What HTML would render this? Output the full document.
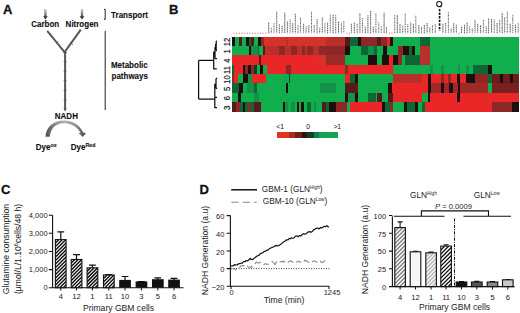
<!DOCTYPE html>
<html><head><meta charset="utf-8"><style>
html,body{margin:0;padding:0;background:#fff;}
body{width:520px;height:313px;overflow:hidden;font-family:"Liberation Sans",sans-serif;}
svg{display:block;}
</style></head><body>
<svg width="520" height="313" viewBox="0 0 520 313">
<rect width="520" height="313" fill="#fff"/>
<defs>
<linearGradient id="lab" x1="0" y1="0" x2="0" y2="1"><stop offset="0" stop-color="#9a9a9a"/><stop offset="1" stop-color="#8a8a8a"/></linearGradient>
<linearGradient id="arrg" x1="0" y1="0" x2="0" y2="1"><stop offset="0" stop-color="#d0d0d0"/><stop offset="0.5" stop-color="#909090"/><stop offset="1" stop-color="#444"/></linearGradient>
<linearGradient id="arcg" gradientUnits="userSpaceOnUse" x1="45" y1="0" x2="86" y2="0"><stop offset="0" stop-color="#4a4a4a"/><stop offset="0.3" stop-color="#9a9a9a"/><stop offset="0.5" stop-color="#b4b4b4"/><stop offset="0.78" stop-color="#8a8a8a"/><stop offset="1" stop-color="#404040"/></linearGradient>
<linearGradient id="cbar" x1="0" y1="0" x2="1" y2="0">
<stop offset="0" stop-color="#e8321f"/><stop offset="0.18" stop-color="#e0301f"/><stop offset="0.3" stop-color="#9e2822"/><stop offset="0.4" stop-color="#6e1e1a"/><stop offset="0.48" stop-color="#2a1410"/><stop offset="0.55" stop-color="#0e2a18"/><stop offset="0.66" stop-color="#0f5a32"/><stop offset="0.75" stop-color="#11914a"/><stop offset="1" stop-color="#13a650"/></linearGradient>
</defs>
<text x="3" y="13.8" font-family="Liberation Sans, sans-serif" font-weight="bold" font-size="13" fill="#111" stroke="#111" stroke-width="0.3">A</text>
<rect x="44.25" y="9" width="2.3" height="8" fill="url(#arrg)"/>
<path d="M43.00,16.3 L47.80,16.3 L45.4,19.4 Z" fill="#3a3a3a"/>
<rect x="80.85" y="9" width="2.3" height="8" fill="url(#arrg)"/>
<path d="M79.60,16.3 L84.40,16.3 L82,19.4 Z" fill="#3a3a3a"/>
<text transform="translate(31.2,26.9) scale(0.9,1)" font-family="Liberation Sans, sans-serif" font-weight="bold" font-size="8.9" fill="#111" stroke="#111" stroke-width="0.12">Carbon</text>
<text transform="translate(65.6,26.9) scale(0.9,1)" font-family="Liberation Sans, sans-serif" font-weight="bold" font-size="8.9" fill="#111" stroke="#111" stroke-width="0.12">Nitrogen</text>
<path d="M47.2,30.8 L64.6,52.2 M80.8,29.6 L64.6,52.2 M65.1,51.5 L65.1,110.8" stroke="#585858" stroke-width="2" fill="none"/>
<path d="M56.2,43.2 L58.4,41.6 M70.6,43 L72.8,44.6 M63.2,52.6 L67,52.6" stroke="#555" stroke-width="0.9" fill="none"/>
<path d="M63.6,61.5 L66.6,61.5 M63.6,71.1 L66.6,71.1 M63.6,80.7 L66.6,80.7 M63.6,90.3 L66.6,90.3 M63.6,99.8 L66.6,99.8 M63.6,108.5 L66.6,108.5" stroke="#555" stroke-width="0.8"/>
<text transform="translate(54.8,119.1) scale(0.9,1)" font-family="Liberation Sans, sans-serif" font-weight="bold" font-size="8.9" fill="#111" stroke="#111" stroke-width="0.12">NADH</text>
<path d="M45.4,136.8 C46.3,126.5 54,120.6 64,120.6 C72,120.6 79.5,124.6 83.2,132.6 L85.9,133.2 L82.7,137.1 L78.5,133 L80.6,132.7 C77.4,127 71,123.2 64,123.2 C56,123.2 50.6,128.2 49.8,136.8 Z" fill="url(#arcg)"/>
<text transform="translate(35.8,149.6) scale(0.9,1)" font-family="Liberation Sans, sans-serif" font-weight="bold" font-size="8.9" fill="#111" stroke="#111" stroke-width="0.12">Dye<tspan font-size="5.8" dy="-2.2">ox</tspan></text>
<text transform="translate(70.8,149.6) scale(0.9,1)" font-family="Liberation Sans, sans-serif" font-weight="bold" font-size="8.9" fill="#111" stroke="#111" stroke-width="0.12">Dye<tspan font-size="5.8" dy="-2.2">Red</tspan></text>
<path d="M104,9.3 L105.2,9.3 L105.2,19.4 L104,19.4 M105.2,30.8 L105.2,110" stroke="#222" stroke-width="1" fill="none"/>
<text transform="translate(111.1,18.3) scale(0.9,1)" font-family="Liberation Sans, sans-serif" font-weight="bold" font-size="8.9" fill="#111" stroke="#111" stroke-width="0.12">Transport</text>
<text transform="translate(110.9,68.1) scale(0.9,1)" font-family="Liberation Sans, sans-serif" font-weight="bold" font-size="8.9" fill="#111" stroke="#111" stroke-width="0.12">Metabolic</text>
<text transform="translate(111.5,78.5) scale(0.9,1)" font-family="Liberation Sans, sans-serif" font-weight="bold" font-size="8.9" fill="#111" stroke="#111" stroke-width="0.12">pathways</text>
<text x="168.9" y="13.8" font-family="Liberation Sans, sans-serif" font-weight="bold" font-size="13" fill="#111" stroke="#111" stroke-width="0.3">B</text>
<path d="M268.7,22.4 L268.7,33.2" stroke="#6a6a6a" stroke-width="1.05" stroke-dasharray="1.8,0.5"/>
<path d="M271.3,27.7 L271.3,33.2" stroke="#6a6a6a" stroke-width="1.05" stroke-dasharray="1.1,0.6"/>
<path d="M274.0,23.3 L274.0,33.2" stroke="#6a6a6a" stroke-width="1.05" stroke-dasharray="0.9,0.5"/>
<path d="M276.7,11.8 L276.7,33.2" stroke="#6a6a6a" stroke-width="1.05" stroke-dasharray="1.4,0.5"/>
<path d="M279.3,24.3 L279.3,33.2" stroke="#6a6a6a" stroke-width="1.05" stroke-dasharray="1.4,0.5"/>
<path d="M282.1,25.7 L282.1,33.2" stroke="#6a6a6a" stroke-width="1.05" stroke-dasharray="1.4,0.5"/>
<path d="M284.8,12.8 L284.8,33.2" stroke="#6a6a6a" stroke-width="1.05" stroke-dasharray="1.8,0.5"/>
<path d="M287.4,21.4 L287.4,33.2" stroke="#6a6a6a" stroke-width="1.05" stroke-dasharray="1.4,0.5"/>
<path d="M290.1,19.5 L290.1,33.2" stroke="#6a6a6a" stroke-width="1.05" stroke-dasharray="1.1,0.6"/>
<path d="M292.7,23.3 L292.7,33.2" stroke="#6a6a6a" stroke-width="1.05" stroke-dasharray="1.4,0.5"/>
<path d="M295.3,13.8 L295.3,33.2" stroke="#6a6a6a" stroke-width="1.05" stroke-dasharray="1.4,0.5"/>
<path d="M298.0,25.3 L298.0,33.2" stroke="#6a6a6a" stroke-width="1.05" stroke-dasharray="0.9,0.5"/>
<path d="M300.5,17.6 L300.5,33.2" stroke="#6a6a6a" stroke-width="1.05" stroke-dasharray="0.9,0.5"/>
<path d="M303.6,23.8 L303.6,33.2" stroke="#6a6a6a" stroke-width="1.05" stroke-dasharray="1.4,0.5"/>
<path d="M306.2,26.2 L306.2,33.2" stroke="#6a6a6a" stroke-width="1.05" stroke-dasharray="1.1,0.6"/>
<path d="M308.8,25.3 L308.8,33.2" stroke="#6a6a6a" stroke-width="1.05" stroke-dasharray="1.4,0.5"/>
<path d="M311.5,11.8 L311.5,33.2" stroke="#6a6a6a" stroke-width="1.05" stroke-dasharray="0.9,0.5"/>
<path d="M314.2,25.3 L314.2,33.2" stroke="#6a6a6a" stroke-width="1.05" stroke-dasharray="1.4,0.5"/>
<path d="M317.1,19.0 L317.1,33.2" stroke="#6a6a6a" stroke-width="1.05" stroke-dasharray="1.4,0.5"/>
<path d="M319.7,27.7 L319.7,33.2" stroke="#6a6a6a" stroke-width="1.05" stroke-dasharray="1.1,0.6"/>
<path d="M322.3,17.6 L322.3,33.2" stroke="#6a6a6a" stroke-width="1.05" stroke-dasharray="1.4,0.5"/>
<path d="M324.9,22.9 L324.9,33.2" stroke="#6a6a6a" stroke-width="1.05" stroke-dasharray="0.9,0.5"/>
<path d="M327.6,22.4 L327.6,33.2" stroke="#6a6a6a" stroke-width="1.05" stroke-dasharray="1.4,0.5"/>
<path d="M330.3,14.7 L330.3,33.2" stroke="#6a6a6a" stroke-width="1.05" stroke-dasharray="1.1,0.6"/>
<path d="M333.1,14.7 L333.1,33.2" stroke="#6a6a6a" stroke-width="1.05" stroke-dasharray="1.4,0.5"/>
<path d="M335.7,15.2 L335.7,33.2" stroke="#6a6a6a" stroke-width="1.05" stroke-dasharray="1.1,0.6"/>
<path d="M338.5,21.4 L338.5,33.2" stroke="#6a6a6a" stroke-width="1.05" stroke-dasharray="1.8,0.5"/>
<path d="M341.4,22.4 L341.4,33.2" stroke="#6a6a6a" stroke-width="1.05" stroke-dasharray="0.9,0.5"/>
<path d="M343.8,21.0 L343.8,33.2" stroke="#6a6a6a" stroke-width="1.05" stroke-dasharray="1.1,0.6"/>
<path d="M351.4,23.8 L351.4,33.2" stroke="#6a6a6a" stroke-width="1.05" stroke-dasharray="1.4,0.5"/>
<path d="M354.3,22.4 L354.3,33.2" stroke="#6a6a6a" stroke-width="1.05" stroke-dasharray="1.8,0.5"/>
<path d="M357.2,23.8 L357.2,33.2" stroke="#6a6a6a" stroke-width="1.05" stroke-dasharray="1.1,0.6"/>
<path d="M359.9,13.3 L359.9,33.2" stroke="#6a6a6a" stroke-width="1.05" stroke-dasharray="1.4,0.5"/>
<path d="M362.4,18.0 L362.4,33.2" stroke="#6a6a6a" stroke-width="1.05" stroke-dasharray="1.1,0.6"/>
<path d="M365.3,26.7 L365.3,33.2" stroke="#6a6a6a" stroke-width="1.05" stroke-dasharray="1.8,0.5"/>
<path d="M367.9,15.2 L367.9,33.2" stroke="#6a6a6a" stroke-width="1.05" stroke-dasharray="1.4,0.5"/>
<path d="M370.6,10.9 L370.6,33.2" stroke="#6a6a6a" stroke-width="1.05" stroke-dasharray="1.4,0.5"/>
<path d="M373.3,26.7 L373.3,33.2" stroke="#6a6a6a" stroke-width="1.05" stroke-dasharray="1.4,0.5"/>
<path d="M375.9,13.8 L375.9,33.2" stroke="#6a6a6a" stroke-width="1.05" stroke-dasharray="1.1,0.6"/>
<path d="M378.7,22.4 L378.7,33.2" stroke="#6a6a6a" stroke-width="1.05" stroke-dasharray="0.9,0.5"/>
<path d="M381.3,26.2 L381.3,33.2" stroke="#6a6a6a" stroke-width="1.05" stroke-dasharray="0.9,0.5"/>
<path d="M384.1,12.8 L384.1,33.2" stroke="#6a6a6a" stroke-width="1.05" stroke-dasharray="1.8,0.5"/>
<path d="M386.5,26.7 L386.5,33.2" stroke="#6a6a6a" stroke-width="1.05" stroke-dasharray="0.9,0.5"/>
<path d="M394.7,15.2 L394.7,33.2" stroke="#6a6a6a" stroke-width="1.05" stroke-dasharray="0.9,0.5"/>
<path d="M397.3,15.2 L397.3,33.2" stroke="#6a6a6a" stroke-width="1.05" stroke-dasharray="1.8,0.5"/>
<path d="M400.0,24.3 L400.0,33.2" stroke="#6a6a6a" stroke-width="1.05" stroke-dasharray="1.8,0.5"/>
<path d="M402.7,25.7 L402.7,33.2" stroke="#6a6a6a" stroke-width="1.05" stroke-dasharray="1.1,0.6"/>
<path d="M405.2,13.8 L405.2,33.2" stroke="#6a6a6a" stroke-width="1.05" stroke-dasharray="1.1,0.6"/>
<path d="M407.8,24.3 L407.8,33.2" stroke="#6a6a6a" stroke-width="1.05" stroke-dasharray="1.1,0.6"/>
<path d="M410.7,22.4 L410.7,33.2" stroke="#6a6a6a" stroke-width="1.05" stroke-dasharray="1.4,0.5"/>
<path d="M413.4,23.8 L413.4,33.2" stroke="#6a6a6a" stroke-width="1.05" stroke-dasharray="1.8,0.5"/>
<path d="M415.8,15.8 L415.8,33.2" stroke="#6a6a6a" stroke-width="1.05" stroke-dasharray="0.9,0.5"/>
<path d="M418.9,24.9 L418.9,33.2" stroke="#6a6a6a" stroke-width="1.05" stroke-dasharray="1.8,0.5"/>
<path d="M421.5,26.7 L421.5,33.2" stroke="#6a6a6a" stroke-width="1.05" stroke-dasharray="0.9,0.5"/>
<path d="M424.3,24.9 L424.3,33.2" stroke="#6a6a6a" stroke-width="1.05" stroke-dasharray="1.8,0.5"/>
<path d="M427.1,23.1 L427.1,33.2" stroke="#6a6a6a" stroke-width="1.05" stroke-dasharray="1.4,0.5"/>
<path d="M429.8,27.4 L429.8,33.2" stroke="#6a6a6a" stroke-width="1.05" stroke-dasharray="1.4,0.5"/>
<path d="M432.5,24.9 L432.5,33.2" stroke="#6a6a6a" stroke-width="1.05" stroke-dasharray="0.9,0.5"/>
<path d="M435.3,24.3 L435.3,33.2" stroke="#6a6a6a" stroke-width="1.05" stroke-dasharray="1.1,0.6"/>
<path d="M442.9,23.7 L442.9,33.2" stroke="#6a6a6a" stroke-width="1.05" stroke-dasharray="1.8,0.5"/>
<path d="M445.6,23.1 L445.6,33.2" stroke="#6a6a6a" stroke-width="1.05" stroke-dasharray="1.1,0.6"/>
<path d="M448.4,12.2 L448.4,33.2" stroke="#6a6a6a" stroke-width="1.05" stroke-dasharray="0.9,0.5"/>
<path d="M451.1,28.6 L451.1,33.2" stroke="#6a6a6a" stroke-width="1.05" stroke-dasharray="0.9,0.5"/>
<path d="M453.7,23.3 L453.7,33.2" stroke="#6a6a6a" stroke-width="1.05" stroke-dasharray="1.4,0.5"/>
<path d="M456.3,24.8 L456.3,33.2" stroke="#6a6a6a" stroke-width="1.05" stroke-dasharray="1.4,0.5"/>
<path d="M461.6,26.7 L461.6,33.2" stroke="#6a6a6a" stroke-width="1.05" stroke-dasharray="1.8,0.5"/>
<path d="M464.5,24.8 L464.5,33.2" stroke="#6a6a6a" stroke-width="1.05" stroke-dasharray="1.8,0.5"/>
<path d="M467.1,22.4 L467.1,33.2" stroke="#6a6a6a" stroke-width="1.05" stroke-dasharray="1.8,0.5"/>
<path d="M469.7,26.2 L469.7,33.2" stroke="#6a6a6a" stroke-width="1.05" stroke-dasharray="0.9,0.5"/>
<path d="M472.3,28.6 L472.3,33.2" stroke="#6a6a6a" stroke-width="1.05" stroke-dasharray="0.9,0.5"/>
<path d="M475.0,20.0 L475.0,33.2" stroke="#6a6a6a" stroke-width="1.05" stroke-dasharray="1.4,0.5"/>
<path d="M477.7,23.8 L477.7,33.2" stroke="#6a6a6a" stroke-width="1.05" stroke-dasharray="1.4,0.5"/>
<path d="M480.6,25.3 L480.6,33.2" stroke="#6a6a6a" stroke-width="1.05" stroke-dasharray="1.8,0.5"/>
<path d="M483.4,20.0 L483.4,33.2" stroke="#6a6a6a" stroke-width="1.05" stroke-dasharray="0.9,0.5"/>
<path d="M486.2,26.2 L486.2,33.2" stroke="#6a6a6a" stroke-width="1.05" stroke-dasharray="1.4,0.5"/>
<path d="M488.6,18.5 L488.6,33.2" stroke="#6a6a6a" stroke-width="1.05" stroke-dasharray="1.4,0.5"/>
<path d="M491.5,19.0 L491.5,33.2" stroke="#6a6a6a" stroke-width="1.05" stroke-dasharray="1.8,0.5"/>
<path d="M494.2,19.5 L494.2,33.2" stroke="#6a6a6a" stroke-width="1.05" stroke-dasharray="0.9,0.5"/>
<path d="M497.1,22.9 L497.1,33.2" stroke="#6a6a6a" stroke-width="1.05" stroke-dasharray="1.8,0.5"/>
<path d="M499.7,20.0 L499.7,33.2" stroke="#6a6a6a" stroke-width="1.05" stroke-dasharray="0.9,0.5"/>
<path d="M502.2,13.3 L502.2,33.2" stroke="#6a6a6a" stroke-width="1.05" stroke-dasharray="1.8,0.5"/>
<path d="M504.7,17.6 L504.7,33.2" stroke="#6a6a6a" stroke-width="1.05" stroke-dasharray="1.4,0.5"/>
<path d="M507.3,11.4 L507.3,33.2" stroke="#6a6a6a" stroke-width="1.05" stroke-dasharray="0.9,0.5"/>
<path d="M510.2,23.8 L510.2,33.2" stroke="#6a6a6a" stroke-width="1.05" stroke-dasharray="1.8,0.5"/>
<path d="M512.8,14.7 L512.8,33.2" stroke="#6a6a6a" stroke-width="1.05" stroke-dasharray="1.1,0.6"/>
<path d="M515.5,24.8 L515.5,33.2" stroke="#6a6a6a" stroke-width="1.05" stroke-dasharray="1.4,0.5"/>
<path d="M518.2,22.9 L518.2,33.2" stroke="#6a6a6a" stroke-width="1.05" stroke-dasharray="0.9,0.5"/>
<rect x="233.5" y="32.6" width="1" height="1.4" fill="#d09090"/>
<rect x="236.2" y="32.6" width="1" height="1.4" fill="#d09090"/>
<rect x="238.8" y="32.6" width="1" height="1.4" fill="#d09090"/>
<rect x="241.5" y="32.6" width="1" height="1.4" fill="#d09090"/>
<rect x="244.1" y="32.6" width="1" height="1.4" fill="#d09090"/>
<rect x="246.8" y="32.6" width="1" height="1.4" fill="#d09090"/>
<rect x="249.4" y="32.6" width="1" height="1.4" fill="#d09090"/>
<rect x="252.1" y="32.6" width="1" height="1.4" fill="#d09090"/>
<rect x="254.7" y="32.6" width="1" height="1.4" fill="#d09090"/>
<rect x="257.4" y="32.6" width="1" height="1.4" fill="#d09090"/>
<rect x="260.0" y="32.6" width="1" height="1.4" fill="#d09090"/>
<rect x="262.6" y="32.6" width="1" height="1.4" fill="#d09090"/>
<rect x="265.3" y="32.6" width="1" height="1.4" fill="#d09090"/>
<rect x="346.5" y="32.6" width="1" height="1.6" fill="#d89a9a"/>
<rect x="349.0" y="32.6" width="1" height="1.6" fill="#d89a9a"/>
<rect x="389.0" y="32.6" width="1" height="1.6" fill="#d89a9a"/>
<rect x="391.5" y="32.6" width="1" height="1.6" fill="#d89a9a"/>
<rect x="458.7" y="32.6" width="1" height="1.6" fill="#d89a9a"/>
<circle cx="439.2" cy="4.05" r="2.6" stroke="#111" stroke-width="1.05" fill="none"/>
<path d="M440.2,6 L441.3,7.1" stroke="#111" stroke-width="1.1"/>
<path d="M439.6,8.9 L439.6,31" stroke="#111" stroke-width="1.6" stroke-dasharray="2.4,1.2"/>
<g shape-rendering="crispEdges"><rect x="232.0" y="36.60" width="2.75" height="9.62" fill="#1e0e0e"/>
<rect x="234.5" y="36.60" width="4.75" height="9.62" fill="#10ae4c"/>
<rect x="239.0" y="36.60" width="3.25" height="9.62" fill="#561a1a"/>
<rect x="242.0" y="36.60" width="4.25" height="9.62" fill="#10ae4c"/>
<rect x="246.0" y="36.60" width="2.75" height="9.62" fill="#1e0e0e"/>
<rect x="248.5" y="36.60" width="2.75" height="9.62" fill="#0d6634"/>
<rect x="251.0" y="36.60" width="2.75" height="9.62" fill="#561a1a"/>
<rect x="253.5" y="36.60" width="5.15" height="9.62" fill="#10ae4c"/>
<rect x="258.4" y="36.60" width="2.55" height="9.62" fill="#1e0e0e"/>
<rect x="260.7" y="36.60" width="3.35" height="9.62" fill="#8e2727"/>
<rect x="263.8" y="36.60" width="22.15" height="9.62" fill="#d5322a"/>
<rect x="285.7" y="36.60" width="2.15" height="9.62" fill="#b9302a"/>
<rect x="287.6" y="36.60" width="38.65" height="9.62" fill="#d5322a"/>
<rect x="326.0" y="36.60" width="18.75" height="9.62" fill="#b9302a"/>
<rect x="344.5" y="36.60" width="5.45" height="9.62" fill="#561a1a"/>
<rect x="349.7" y="36.60" width="8.55" height="9.62" fill="#0d6634"/>
<rect x="358.0" y="36.60" width="2.75" height="9.62" fill="#1e0e0e"/>
<rect x="360.5" y="36.60" width="16.35" height="9.62" fill="#8e2727"/>
<rect x="376.6" y="36.60" width="4.65" height="9.62" fill="#561a1a"/>
<rect x="381.0" y="36.60" width="6.05" height="9.62" fill="#8e2727"/>
<rect x="386.8" y="36.60" width="3.45" height="9.62" fill="#ea2626"/>
<rect x="390.0" y="36.60" width="2.75" height="9.62" fill="#1e0e0e"/>
<rect x="392.5" y="36.60" width="28.05" height="9.62" fill="#10ae4c"/>
<rect x="420.3" y="36.60" width="9.95" height="9.62" fill="#0d6634"/>
<rect x="430.0" y="36.60" width="89.25" height="9.62" fill="#10ae4c"/>
<rect x="232.0" y="45.98" width="16.75" height="9.62" fill="#10ae4c"/>
<rect x="248.5" y="45.98" width="2.95" height="9.62" fill="#1e0e0e"/>
<rect x="251.2" y="45.98" width="6.75" height="9.62" fill="#119246"/>
<rect x="257.7" y="45.98" width="1.75" height="9.62" fill="#0d6634"/>
<rect x="259.2" y="45.98" width="4.45" height="9.62" fill="#10ae4c"/>
<rect x="263.4" y="45.98" width="2.15" height="9.62" fill="#561a1a"/>
<rect x="265.3" y="45.98" width="14.25" height="9.62" fill="#b9302a"/>
<rect x="279.3" y="45.98" width="5.95" height="9.62" fill="#8e2727"/>
<rect x="285.0" y="45.98" width="6.05" height="9.62" fill="#b9302a"/>
<rect x="290.8" y="45.98" width="5.95" height="9.62" fill="#8e2727"/>
<rect x="296.5" y="45.98" width="6.05" height="9.62" fill="#b9302a"/>
<rect x="302.3" y="45.98" width="2.85" height="9.62" fill="#8e2727"/>
<rect x="304.9" y="45.98" width="2.75" height="9.62" fill="#b9302a"/>
<rect x="307.4" y="45.98" width="6.05" height="9.62" fill="#8e2727"/>
<rect x="313.2" y="45.98" width="5.95" height="9.62" fill="#b9302a"/>
<rect x="318.9" y="45.98" width="6.05" height="9.62" fill="#8e2727"/>
<rect x="324.7" y="45.98" width="20.05" height="9.62" fill="#8e2727"/>
<rect x="344.5" y="45.98" width="5.45" height="9.62" fill="#1e0e0e"/>
<rect x="349.7" y="45.98" width="11.05" height="9.62" fill="#10ae4c"/>
<rect x="360.5" y="45.98" width="7.95" height="9.62" fill="#0d6634"/>
<rect x="368.2" y="45.98" width="6.05" height="9.62" fill="#119246"/>
<rect x="374.0" y="45.98" width="2.85" height="9.62" fill="#0d6634"/>
<rect x="376.6" y="45.98" width="6.65" height="9.62" fill="#10ae4c"/>
<rect x="383.0" y="45.98" width="4.05" height="9.62" fill="#1e0e0e"/>
<rect x="386.8" y="45.98" width="11.15" height="9.62" fill="#10ae4c"/>
<rect x="397.7" y="45.98" width="5.95" height="9.62" fill="#8e2727"/>
<rect x="403.4" y="45.98" width="5.35" height="9.62" fill="#1e0e0e"/>
<rect x="408.5" y="45.98" width="3.45" height="9.62" fill="#0d6634"/>
<rect x="411.7" y="45.98" width="3.55" height="9.62" fill="#1e0e0e"/>
<rect x="415.0" y="45.98" width="5.25" height="9.62" fill="#10ae4c"/>
<rect x="420.0" y="45.98" width="9.95" height="9.62" fill="#b9302a"/>
<rect x="429.7" y="45.98" width="89.55" height="9.62" fill="#10ae4c"/>
<rect x="232.0" y="55.35" width="27.05" height="9.62" fill="#ea2626"/>
<rect x="258.8" y="55.35" width="2.45" height="9.62" fill="#561a1a"/>
<rect x="261.0" y="55.35" width="58.15" height="9.62" fill="#ea2626"/>
<rect x="318.9" y="55.35" width="7.35" height="9.62" fill="#d5322a"/>
<rect x="326.0" y="55.35" width="18.75" height="9.62" fill="#9e2a28"/>
<rect x="344.5" y="55.35" width="23.95" height="9.62" fill="#10ae4c"/>
<rect x="368.2" y="55.35" width="8.65" height="9.62" fill="#1e0e0e"/>
<rect x="376.6" y="55.35" width="5.95" height="9.62" fill="#10ae4c"/>
<rect x="382.3" y="55.35" width="7.25" height="9.62" fill="#1e0e0e"/>
<rect x="389.3" y="55.35" width="4.15" height="9.62" fill="#ea2626"/>
<rect x="393.2" y="55.35" width="4.75" height="9.62" fill="#1e0e0e"/>
<rect x="397.7" y="55.35" width="4.55" height="9.62" fill="#8e2727"/>
<rect x="402.0" y="55.35" width="3.25" height="9.62" fill="#10ae4c"/>
<rect x="405.0" y="55.35" width="15.55" height="9.62" fill="#0d6634"/>
<rect x="420.3" y="55.35" width="9.95" height="9.62" fill="#b9302a"/>
<rect x="430.0" y="55.35" width="89.25" height="9.62" fill="#10ae4c"/>
<rect x="232.0" y="64.72" width="2.05" height="9.62" fill="#0d6634"/>
<rect x="233.8" y="64.72" width="8.95" height="9.62" fill="#ea2626"/>
<rect x="242.5" y="64.72" width="3.15" height="9.62" fill="#1e0e0e"/>
<rect x="245.4" y="64.72" width="2.65" height="9.62" fill="#8e2727"/>
<rect x="247.8" y="64.72" width="3.15" height="9.62" fill="#1e0e0e"/>
<rect x="250.7" y="64.72" width="3.15" height="9.62" fill="#8e2727"/>
<rect x="253.6" y="64.72" width="3.65" height="9.62" fill="#0b3d22"/>
<rect x="257.0" y="64.72" width="3.05" height="9.62" fill="#10ae4c"/>
<rect x="259.8" y="64.72" width="3.65" height="9.62" fill="#1e0e0e"/>
<rect x="263.2" y="64.72" width="3.55" height="9.62" fill="#10ae4c"/>
<rect x="266.5" y="64.72" width="19.45" height="9.62" fill="#ea2626"/>
<rect x="285.7" y="64.72" width="5.35" height="9.62" fill="#8e2727"/>
<rect x="290.8" y="64.72" width="54.45" height="9.62" fill="#ea2626"/>
<rect x="345.0" y="64.72" width="3.65" height="9.62" fill="#8e2727"/>
<rect x="348.4" y="64.72" width="44.35" height="9.62" fill="#ea2626"/>
<rect x="392.5" y="64.72" width="37.45" height="9.62" fill="#10ae4c"/>
<rect x="429.7" y="64.72" width="3.45" height="9.62" fill="#119246"/>
<rect x="432.9" y="64.72" width="8.55" height="9.62" fill="#10ae4c"/>
<rect x="441.2" y="64.72" width="2.75" height="9.62" fill="#119246"/>
<rect x="443.7" y="64.72" width="14.35" height="9.62" fill="#10ae4c"/>
<rect x="457.8" y="64.72" width="2.85" height="9.62" fill="#119246"/>
<rect x="460.4" y="64.72" width="5.35" height="9.62" fill="#10ae4c"/>
<rect x="465.5" y="64.72" width="3.45" height="9.62" fill="#119246"/>
<rect x="468.7" y="64.72" width="4.15" height="9.62" fill="#10ae4c"/>
<rect x="472.6" y="64.72" width="15.65" height="9.62" fill="#0d6634"/>
<rect x="488.0" y="64.72" width="3.95" height="9.62" fill="#1e0e0e"/>
<rect x="491.7" y="64.72" width="27.55" height="9.62" fill="#10ae4c"/>
<rect x="232.0" y="74.10" width="2.05" height="9.62" fill="#8e2727"/>
<rect x="233.8" y="74.10" width="3.95" height="9.62" fill="#ea2626"/>
<rect x="237.5" y="74.10" width="5.55" height="9.62" fill="#10ae4c"/>
<rect x="242.8" y="74.10" width="4.95" height="9.62" fill="#1e0e0e"/>
<rect x="247.5" y="74.10" width="5.15" height="9.62" fill="#119246"/>
<rect x="252.4" y="74.10" width="13.65" height="9.62" fill="#ea2626"/>
<rect x="265.8" y="74.10" width="23.25" height="9.62" fill="#10ae4c"/>
<rect x="288.8" y="74.10" width="1.45" height="9.62" fill="#0b3d22"/>
<rect x="290.0" y="74.10" width="55.45" height="9.62" fill="#10ae4c"/>
<rect x="345.2" y="74.10" width="4.75" height="9.62" fill="#ea2626"/>
<rect x="349.7" y="74.10" width="5.35" height="9.62" fill="#0d6634"/>
<rect x="354.8" y="74.10" width="3.45" height="9.62" fill="#1e0e0e"/>
<rect x="358.0" y="74.10" width="35.45" height="9.62" fill="#10ae4c"/>
<rect x="393.2" y="74.10" width="29.05" height="9.62" fill="#b9302a"/>
<rect x="422.0" y="74.10" width="6.05" height="9.62" fill="#ea2626"/>
<rect x="427.8" y="74.10" width="3.45" height="9.62" fill="#1e0e0e"/>
<rect x="431.0" y="74.10" width="10.45" height="9.62" fill="#ea2626"/>
<rect x="441.2" y="74.10" width="3.45" height="9.62" fill="#8e2727"/>
<rect x="444.4" y="74.10" width="3.45" height="9.62" fill="#ea2626"/>
<rect x="447.6" y="74.10" width="4.05" height="9.62" fill="#8e2727"/>
<rect x="451.4" y="74.10" width="6.05" height="9.62" fill="#ea2626"/>
<rect x="457.2" y="74.10" width="3.45" height="9.62" fill="#1e0e0e"/>
<rect x="460.4" y="74.10" width="5.35" height="9.62" fill="#ea2626"/>
<rect x="465.5" y="74.10" width="9.75" height="9.62" fill="#1e0e0e"/>
<rect x="475.0" y="74.10" width="13.25" height="9.62" fill="#8e2727"/>
<rect x="488.0" y="74.10" width="4.65" height="9.62" fill="#0d6634"/>
<rect x="492.4" y="74.10" width="7.85" height="9.62" fill="#6e1c1c"/>
<rect x="500.0" y="74.10" width="2.75" height="9.62" fill="#1e0e0e"/>
<rect x="502.5" y="74.10" width="7.75" height="9.62" fill="#6e1c1c"/>
<rect x="510.0" y="74.10" width="3.25" height="9.62" fill="#1e0e0e"/>
<rect x="513.0" y="74.10" width="6.25" height="9.62" fill="#6e1c1c"/>
<rect x="232.0" y="83.47" width="7.45" height="9.62" fill="#0d6634"/>
<rect x="239.2" y="83.47" width="3.75" height="9.62" fill="#1e0e0e"/>
<rect x="242.7" y="83.47" width="4.15" height="9.62" fill="#10ae4c"/>
<rect x="246.6" y="83.47" width="7.95" height="9.62" fill="#119246"/>
<rect x="254.3" y="83.47" width="2.95" height="9.62" fill="#0d6634"/>
<rect x="257.0" y="83.47" width="28.95" height="9.62" fill="#10ae4c"/>
<rect x="285.7" y="83.47" width="2.75" height="9.62" fill="#1e0e0e"/>
<rect x="288.2" y="83.47" width="32.05" height="9.62" fill="#10ae4c"/>
<rect x="320.0" y="83.47" width="16.45" height="9.62" fill="#119246"/>
<rect x="336.2" y="83.47" width="9.25" height="9.62" fill="#10ae4c"/>
<rect x="345.2" y="83.47" width="13.05" height="9.62" fill="#561a1a"/>
<rect x="358.0" y="83.47" width="30.25" height="9.62" fill="#10ae4c"/>
<rect x="388.0" y="83.47" width="4.25" height="9.62" fill="#1e0e0e"/>
<rect x="392.0" y="83.47" width="36.05" height="9.62" fill="#ea2626"/>
<rect x="427.8" y="83.47" width="3.45" height="9.62" fill="#1e0e0e"/>
<rect x="431.0" y="83.47" width="10.45" height="9.62" fill="#9e2a28"/>
<rect x="441.2" y="83.47" width="3.45" height="9.62" fill="#1e0e0e"/>
<rect x="444.4" y="83.47" width="4.75" height="9.62" fill="#9e2a28"/>
<rect x="448.9" y="83.47" width="4.05" height="9.62" fill="#1e0e0e"/>
<rect x="452.7" y="83.47" width="5.35" height="9.62" fill="#9e2a28"/>
<rect x="457.8" y="83.47" width="2.85" height="9.62" fill="#1e0e0e"/>
<rect x="460.4" y="83.47" width="27.85" height="9.62" fill="#9e2a28"/>
<rect x="488.0" y="83.47" width="4.65" height="9.62" fill="#10ae4c"/>
<rect x="492.4" y="83.47" width="26.85" height="9.62" fill="#7a2020"/>
<rect x="232.0" y="92.85" width="6.55" height="9.62" fill="#10ae4c"/>
<rect x="238.3" y="92.85" width="2.85" height="9.62" fill="#1e0e0e"/>
<rect x="240.9" y="92.85" width="13.35" height="9.62" fill="#10ae4c"/>
<rect x="254.0" y="92.85" width="4.75" height="9.62" fill="#119246"/>
<rect x="258.5" y="92.85" width="86.95" height="9.62" fill="#10ae4c"/>
<rect x="345.2" y="92.85" width="2.75" height="9.62" fill="#1e0e0e"/>
<rect x="347.7" y="92.85" width="7.95" height="9.62" fill="#119246"/>
<rect x="355.4" y="92.85" width="2.85" height="9.62" fill="#1e0e0e"/>
<rect x="358.0" y="92.85" width="10.45" height="9.62" fill="#10ae4c"/>
<rect x="368.2" y="92.85" width="8.05" height="9.62" fill="#0d6634"/>
<rect x="376.0" y="92.85" width="1.45" height="9.62" fill="#10ae4c"/>
<rect x="377.2" y="92.85" width="4.75" height="9.62" fill="#561a1a"/>
<rect x="381.7" y="92.85" width="6.55" height="9.62" fill="#10ae4c"/>
<rect x="388.0" y="92.85" width="4.75" height="9.62" fill="#561a1a"/>
<rect x="392.5" y="92.85" width="29.75" height="9.62" fill="#ea2626"/>
<rect x="422.0" y="92.85" width="6.05" height="9.62" fill="#10ae4c"/>
<rect x="427.8" y="92.85" width="2.75" height="9.62" fill="#1e0e0e"/>
<rect x="430.3" y="92.85" width="27.15" height="9.62" fill="#ea2626"/>
<rect x="457.2" y="92.85" width="3.45" height="9.62" fill="#1e0e0e"/>
<rect x="460.4" y="92.85" width="58.85" height="9.62" fill="#ea2626"/>
<rect x="232.0" y="102.22" width="4.05" height="9.62" fill="#561a1a"/>
<rect x="235.8" y="102.22" width="4.05" height="9.62" fill="#8e2727"/>
<rect x="239.6" y="102.22" width="3.45" height="9.62" fill="#0d6634"/>
<rect x="242.8" y="102.22" width="2.75" height="9.62" fill="#1e0e0e"/>
<rect x="245.3" y="102.22" width="2.95" height="9.62" fill="#0d6634"/>
<rect x="248.0" y="102.22" width="3.25" height="9.62" fill="#8e2727"/>
<rect x="251.0" y="102.22" width="3.55" height="9.62" fill="#0d6634"/>
<rect x="254.3" y="102.22" width="6.65" height="9.62" fill="#561a1a"/>
<rect x="260.7" y="102.22" width="22.05" height="9.62" fill="#10ae4c"/>
<rect x="282.5" y="102.22" width="2.75" height="9.62" fill="#1e0e0e"/>
<rect x="285.0" y="102.22" width="3.25" height="9.62" fill="#119246"/>
<rect x="288.0" y="102.22" width="3.05" height="9.62" fill="#10ae4c"/>
<rect x="290.8" y="102.22" width="4.75" height="9.62" fill="#119246"/>
<rect x="295.3" y="102.22" width="1.45" height="9.62" fill="#10ae4c"/>
<rect x="296.5" y="102.22" width="2.75" height="9.62" fill="#1e0e0e"/>
<rect x="299.0" y="102.22" width="2.25" height="9.62" fill="#10ae4c"/>
<rect x="301.0" y="102.22" width="2.85" height="9.62" fill="#1e0e0e"/>
<rect x="303.6" y="102.22" width="4.05" height="9.62" fill="#10ae4c"/>
<rect x="307.4" y="102.22" width="4.05" height="9.62" fill="#0d6634"/>
<rect x="311.2" y="102.22" width="2.85" height="9.62" fill="#10ae4c"/>
<rect x="313.8" y="102.22" width="2.85" height="9.62" fill="#119246"/>
<rect x="316.4" y="102.22" width="5.35" height="9.62" fill="#10ae4c"/>
<rect x="321.5" y="102.22" width="4.75" height="9.62" fill="#561a1a"/>
<rect x="326.0" y="102.22" width="2.85" height="9.62" fill="#0d6634"/>
<rect x="328.6" y="102.22" width="7.85" height="9.62" fill="#1e0e0e"/>
<rect x="336.2" y="102.22" width="10.55" height="9.62" fill="#8e2727"/>
<rect x="346.5" y="102.22" width="3.45" height="9.62" fill="#10ae4c"/>
<rect x="349.7" y="102.22" width="32.85" height="9.62" fill="#ea2626"/>
<rect x="382.3" y="102.22" width="2.85" height="9.62" fill="#1e0e0e"/>
<rect x="384.9" y="102.22" width="5.35" height="9.62" fill="#0d6634"/>
<rect x="390.0" y="102.22" width="3.45" height="9.62" fill="#8e2727"/>
<rect x="393.2" y="102.22" width="11.05" height="9.62" fill="#10ae4c"/>
<rect x="404.0" y="102.22" width="2.85" height="9.62" fill="#1e0e0e"/>
<rect x="406.6" y="102.22" width="8.65" height="9.62" fill="#0d6634"/>
<rect x="415.0" y="102.22" width="3.35" height="9.62" fill="#1e0e0e"/>
<rect x="418.1" y="102.22" width="4.15" height="9.62" fill="#10ae4c"/>
<rect x="422.0" y="102.22" width="2.85" height="9.62" fill="#0d6634"/>
<rect x="424.6" y="102.22" width="68.05" height="9.62" fill="#ea2626"/>
<rect x="492.4" y="102.22" width="19.85" height="9.62" fill="#8e2727"/>
<rect x="512.0" y="102.22" width="7.25" height="9.62" fill="#1e0e0e"/></g>
<path d="M198.6,60.4 L198.6,99.1 M198.6,60.4 L213.7,60.4 M198.6,99.1 L215,99.1 M213.7,51.8 L213.7,68.9 L216.8,68.9 M213.7,51.8 L215,51.8 M215,47 L215,58.5 M215,47 L216.6,47 M216.2,41.2 L216.2,50.5 M216.2,41.2 L217,41.2 M216.2,50.5 L217,50.5 M215,58.5 L217,58.5 M215.6,44 L215.6,50 M214.8,84 L214.8,107.6 L217,107.6 M214.8,84 L216,84 M216,78.4 L216,88.4 M216,78.4 L217.2,78.4 M216,88.4 L217.2,88.4 M214.8,97.4 L217,97.4" stroke="#111" stroke-width="1.25" fill="none"/>
<text transform="translate(230.3,41.89) rotate(-90) scale(0.92,1)" text-anchor="middle" font-family="Liberation Sans, sans-serif" font-size="8.3" fill="#111" stroke="#111" stroke-width="0.18">12</text>
<text transform="translate(230.3,51.26) rotate(-90) scale(0.92,1)" text-anchor="middle" font-family="Liberation Sans, sans-serif" font-size="8.3" fill="#111" stroke="#111" stroke-width="0.18">1</text>
<text transform="translate(230.3,60.64) rotate(-90) scale(0.92,1)" text-anchor="middle" font-family="Liberation Sans, sans-serif" font-size="8.3" fill="#111" stroke="#111" stroke-width="0.18">4</text>
<text transform="translate(230.3,70.01) rotate(-90) scale(0.92,1)" text-anchor="middle" font-family="Liberation Sans, sans-serif" font-size="8.3" fill="#111" stroke="#111" stroke-width="0.18">11</text>
<text transform="translate(230.3,79.39) rotate(-90) scale(0.92,1)" text-anchor="middle" font-family="Liberation Sans, sans-serif" font-size="8.3" fill="#111" stroke="#111" stroke-width="0.18">10</text>
<text transform="translate(230.3,88.76) rotate(-90) scale(0.92,1)" text-anchor="middle" font-family="Liberation Sans, sans-serif" font-size="8.3" fill="#111" stroke="#111" stroke-width="0.18">5</text>
<text transform="translate(230.3,98.14) rotate(-90) scale(0.92,1)" text-anchor="middle" font-family="Liberation Sans, sans-serif" font-size="8.3" fill="#111" stroke="#111" stroke-width="0.18">6</text>
<text transform="translate(230.3,107.51) rotate(-90) scale(0.92,1)" text-anchor="middle" font-family="Liberation Sans, sans-serif" font-size="8.3" fill="#111" stroke="#111" stroke-width="0.18">3</text>
<rect x="276.9" y="132" width="11.8" height="5.8" fill="#e2341f" shape-rendering="crispEdges"/>
<rect x="288.5" y="132" width="7.1" height="5.8" fill="#a82a22" shape-rendering="crispEdges"/>
<rect x="295.4" y="132" width="6.3" height="5.8" fill="#6e201c" shape-rendering="crispEdges"/>
<rect x="301.5" y="132" width="5.7" height="5.8" fill="#2c1612" shape-rendering="crispEdges"/>
<rect x="307" y="132" width="7.0" height="5.8" fill="#12402a" shape-rendering="crispEdges"/>
<rect x="313.8" y="132" width="5.6" height="5.8" fill="#10804a" shape-rendering="crispEdges"/>
<rect x="319.2" y="132" width="19.2" height="5.8" fill="#12a452" shape-rendering="crispEdges"/>
<text transform="translate(276.3,129.3) scale(0.95,1)" font-family="Liberation Sans, sans-serif" font-size="7.16" fill="#111">&lt;1</text>
<text transform="translate(306.3,129.3) scale(0.95,1)" font-family="Liberation Sans, sans-serif" font-size="7.16" fill="#111">0</text>
<text transform="translate(333.4,129.3) scale(0.95,1)" font-family="Liberation Sans, sans-serif" font-size="7.16" fill="#111">&gt;1</text>
<text x="1" y="193.5" font-family="Liberation Sans, sans-serif" font-weight="bold" font-size="13" fill="#111" stroke="#111" stroke-width="0.3">C</text>
<text transform="translate(8.5,249) rotate(-90)" text-anchor="middle" font-family="Liberation Sans, sans-serif" font-size="8.6" fill="#222">Glutamine consumption</text>
<text transform="translate(20.7,249) rotate(-90)" text-anchor="middle" font-family="Liberation Sans, sans-serif" font-size="8.6" fill="#222">(µmol/L/1.10<tspan font-size="5.5" dy="-3">6</tspan><tspan dy="3">cells/48 h)</tspan></text>
<path d="M52.6,215.2 L52.6,287.7 L183.5,287.7 M48.8,215.2 L52.6,215.2 M48.8,233.3 L52.6,233.3 M48.8,251.5 L52.6,251.5 M48.8,269.6 L52.6,269.6 M48.8,287.7 L52.6,287.7" stroke="#111" stroke-width="1.1" fill="none"/>
<text transform="translate(47.6,217.8) scale(0.95,1)" text-anchor="end" font-family="Liberation Sans, sans-serif" font-size="7.89" fill="#222">4,000</text>
<text transform="translate(47.6,235.9) scale(0.95,1)" text-anchor="end" font-family="Liberation Sans, sans-serif" font-size="7.89" fill="#222">3,000</text>
<text transform="translate(47.6,254.1) scale(0.95,1)" text-anchor="end" font-family="Liberation Sans, sans-serif" font-size="7.89" fill="#222">2,000</text>
<text transform="translate(47.6,272.2) scale(0.95,1)" text-anchor="end" font-family="Liberation Sans, sans-serif" font-size="7.89" fill="#222">1,000</text>
<text transform="translate(47.6,290.3) scale(0.95,1)" text-anchor="end" font-family="Liberation Sans, sans-serif" font-size="7.89" fill="#222">0</text>
<path d="M60.8,239.6 L60.8,231.8 M57.4,231.8 L64.2,231.8" stroke="#111" stroke-width="1.2"/>
<rect x="55.4" y="239.6" width="10.7" height="48.1" fill="#fff"/>
<clipPath id="c5542395"><rect x="55.4" y="239.578125" width="10.7" height="48.12187499999999"/></clipPath>
<path clip-path="url(#c5542395)" d="M7.28,287.70 L55.40,239.58 M10.78,287.70 L58.90,239.58 M14.28,287.70 L62.40,239.58 M17.78,287.70 L65.90,239.58 M21.28,287.70 L69.40,239.58 M24.78,287.70 L72.90,239.58 M28.28,287.70 L76.40,239.58 M31.78,287.70 L79.90,239.58 M35.28,287.70 L83.40,239.58 M38.78,287.70 L86.90,239.58 M42.28,287.70 L90.40,239.58 M45.78,287.70 L93.90,239.58 M49.28,287.70 L97.40,239.58 M52.78,287.70 L100.90,239.58 M56.28,287.70 L104.40,239.58 M59.78,287.70 L107.90,239.58 M63.28,287.70 L111.40,239.58 M66.78,287.70 L114.90,239.58 M70.28,287.70 L118.40,239.58 M73.78,287.70 L121.90,239.58 M77.28,287.70 L125.40,239.58 M80.78,287.70 L128.90,239.58 M84.28,287.70 L132.40,239.58 M87.78,287.70 L135.90,239.58 M91.28,287.70 L139.40,239.58 M94.78,287.70 L142.90,239.58 M98.28,287.70 L146.40,239.58 M101.78,287.70 L149.90,239.58 M105.28,287.70 L153.40,239.58 M108.78,287.70 L156.90,239.58 M112.28,287.70 L160.40,239.58" stroke="#111" stroke-width="1.45" fill="none"/>
<rect x="55.4" y="239.6" width="10.7" height="48.1" fill="none" stroke="#111" stroke-width="1.1"/>
<path d="M60.8,287.7 L60.8,290.5" stroke="#111" stroke-width="1"/>
<text transform="translate(60.8,299) scale(0.95,1)" text-anchor="middle" font-family="Liberation Sans, sans-serif" font-size="8.00" fill="#222">4</text>
<path d="M76.5,259.5 L76.5,254.6 M73.1,254.6 L80.0,254.6" stroke="#111" stroke-width="1.2"/>
<rect x="71.2" y="259.5" width="10.7" height="28.2" fill="#fff"/>
<clipPath id="c7122595"><rect x="71.2" y="259.515625" width="10.7" height="28.18437499999999"/></clipPath>
<path clip-path="url(#c7122595)" d="M43.02,287.70 L71.20,259.52 M46.52,287.70 L74.70,259.52 M50.02,287.70 L78.20,259.52 M53.52,287.70 L81.70,259.52 M57.02,287.70 L85.20,259.52 M60.52,287.70 L88.70,259.52 M64.02,287.70 L92.20,259.52 M67.52,287.70 L95.70,259.52 M71.02,287.70 L99.20,259.52 M74.52,287.70 L102.70,259.52 M78.02,287.70 L106.20,259.52 M81.52,287.70 L109.70,259.52 M85.02,287.70 L113.20,259.52 M88.52,287.70 L116.70,259.52 M92.02,287.70 L120.20,259.52 M95.52,287.70 L123.70,259.52 M99.02,287.70 L127.20,259.52 M102.52,287.70 L130.70,259.52 M106.02,287.70 L134.20,259.52 M109.52,287.70 L137.70,259.52" stroke="#111" stroke-width="1.45" fill="none"/>
<rect x="71.2" y="259.5" width="10.7" height="28.2" fill="none" stroke="#111" stroke-width="1.1"/>
<path d="M76.5,287.7 L76.5,290.5" stroke="#111" stroke-width="1"/>
<text transform="translate(76.5,299) scale(0.95,1)" text-anchor="middle" font-family="Liberation Sans, sans-serif" font-size="8.00" fill="#222">12</text>
<path d="M92.4,267.8 L92.4,265.2 M89.0,265.2 L95.8,265.2" stroke="#111" stroke-width="1.2"/>
<rect x="87.1" y="267.8" width="10.7" height="19.9" fill="#fff"/>
<clipPath id="c8712677"><rect x="87.1" y="267.7625" width="10.7" height="19.9375"/></clipPath>
<path clip-path="url(#c8712677)" d="M67.16,287.70 L87.10,267.76 M70.66,287.70 L90.60,267.76 M74.16,287.70 L94.10,267.76 M77.66,287.70 L97.60,267.76 M81.16,287.70 L101.10,267.76 M84.66,287.70 L104.60,267.76 M88.16,287.70 L108.10,267.76 M91.66,287.70 L111.60,267.76 M95.16,287.70 L115.10,267.76 M98.66,287.70 L118.60,267.76 M102.16,287.70 L122.10,267.76 M105.66,287.70 L125.60,267.76 M109.16,287.70 L129.10,267.76 M112.66,287.70 L132.60,267.76 M116.16,287.70 L136.10,267.76" stroke="#111" stroke-width="1.45" fill="none"/>
<rect x="87.1" y="267.8" width="10.7" height="19.9" fill="none" stroke="#111" stroke-width="1.1"/>
<path d="M92.4,287.7 L92.4,290.5" stroke="#111" stroke-width="1"/>
<text transform="translate(92.4,299) scale(0.95,1)" text-anchor="middle" font-family="Liberation Sans, sans-serif" font-size="8.00" fill="#222">1</text>
<path d="M108.8,275.0 L108.8,274.6 M105.4,274.6 L112.2,274.6" stroke="#111" stroke-width="1.2"/>
<rect x="103.5" y="275.0" width="10.7" height="12.7" fill="#fff"/>
<clipPath id="c10352750"><rect x="103.5" y="275.0125" width="10.7" height="12.6875"/></clipPath>
<path clip-path="url(#c10352750)" d="M90.81,287.70 L103.50,275.01 M94.31,287.70 L107.00,275.01 M97.81,287.70 L110.50,275.01 M101.31,287.70 L114.00,275.01 M104.81,287.70 L117.50,275.01 M108.31,287.70 L121.00,275.01 M111.81,287.70 L124.50,275.01 M115.31,287.70 L128.00,275.01 M118.81,287.70 L131.50,275.01 M122.31,287.70 L135.00,275.01 M125.81,287.70 L138.50,275.01" stroke="#111" stroke-width="1.45" fill="none"/>
<rect x="103.5" y="275.0" width="10.7" height="12.7" fill="none" stroke="#111" stroke-width="1.1"/>
<path d="M108.8,287.7 L108.8,290.5" stroke="#111" stroke-width="1"/>
<text transform="translate(108.8,299) scale(0.95,1)" text-anchor="middle" font-family="Liberation Sans, sans-serif" font-size="8.00" fill="#222">11</text>
<path d="M125.0,280.4 L125.0,276.5 M121.6,276.5 L128.4,276.5" stroke="#111" stroke-width="1.2"/>
<rect x="119.2" y="279.9" width="11.7" height="7.8" fill="#111"/>
<path d="M125.0,287.7 L125.0,290.5" stroke="#111" stroke-width="1"/>
<text transform="translate(125.0,299) scale(0.95,1)" text-anchor="middle" font-family="Liberation Sans, sans-serif" font-size="8.00" fill="#222">10</text>
<path d="M141.4,281.9 L141.4,281.5 M138.0,281.5 L144.8,281.5" stroke="#111" stroke-width="1.2"/>
<rect x="135.6" y="281.4" width="11.7" height="6.3" fill="#111"/>
<path d="M141.4,287.7 L141.4,290.5" stroke="#111" stroke-width="1"/>
<text transform="translate(141.4,299) scale(0.95,1)" text-anchor="middle" font-family="Liberation Sans, sans-serif" font-size="8.00" fill="#222">3</text>
<path d="M157.8,279.7 L157.8,277.9 M154.4,277.9 L161.2,277.9" stroke="#111" stroke-width="1.2"/>
<rect x="152.0" y="279.2" width="11.7" height="8.5" fill="#111"/>
<path d="M157.8,287.7 L157.8,290.5" stroke="#111" stroke-width="1"/>
<text transform="translate(157.8,299) scale(0.95,1)" text-anchor="middle" font-family="Liberation Sans, sans-serif" font-size="8.00" fill="#222">5</text>
<path d="M174.0,280.1 L174.0,278.3 M170.6,278.3 L177.4,278.3" stroke="#111" stroke-width="1.2"/>
<rect x="168.2" y="279.6" width="11.7" height="8.1" fill="#111"/>
<path d="M174.0,287.7 L174.0,290.5" stroke="#111" stroke-width="1"/>
<text transform="translate(174.0,299) scale(0.95,1)" text-anchor="middle" font-family="Liberation Sans, sans-serif" font-size="8.00" fill="#222">6</text>
<text transform="translate(118.5,311.3) scale(0.95,1)" text-anchor="middle" font-family="Liberation Sans, sans-serif" font-size="9.05" fill="#222">Primary GBM cells</text>
<text x="199.4" y="193.5" font-family="Liberation Sans, sans-serif" font-weight="bold" font-size="13" fill="#111" stroke="#111" stroke-width="0.3">D</text>
<path d="M231.2,189.8 L257,189.8" stroke="#111" stroke-width="1.5"/>
<path d="M231.4,202.2 L256.8,202.2" stroke="#8a8a8a" stroke-width="1.1" stroke-dasharray="7.3,4"/>
<text transform="translate(261.7,192.3) scale(0.95,1)" font-family="Liberation Sans, sans-serif" font-size="8.74" fill="#222">GBM-1 (GLN<tspan font-size="5" dy="-3">High</tspan><tspan dy="3">)</tspan></text>
<text transform="translate(262.8,204.2) scale(0.95,1)" font-family="Liberation Sans, sans-serif" font-size="8.74" fill="#222">GBM-10 (GLN<tspan font-size="5" dy="-3">Low</tspan><tspan dy="3">)</tspan></text>
<text transform="translate(207.9,250.5) rotate(-90)" text-anchor="middle" font-family="Liberation Sans, sans-serif" font-size="8.6" fill="#222">NADH Generation (a.u)</text>
<path d="M230.4,215.6 L230.4,286.3 L329.5,286.3 M226.6,215.6 L230.4,215.6 M226.6,233.3 L230.4,233.3 M226.6,251.0 L230.4,251.0 M226.6,268.6 L230.4,268.6 M226.6,286.3 L230.4,286.3 M231,286.3 L231,289 M329,286.3 L329,289" stroke="#111" stroke-width="1.1" fill="none"/>
<text transform="translate(224.4,219.1) scale(0.95,1)" text-anchor="end" font-family="Liberation Sans, sans-serif" font-size="7.89" fill="#222">60</text>
<text transform="translate(224.4,236.8) scale(0.95,1)" text-anchor="end" font-family="Liberation Sans, sans-serif" font-size="7.89" fill="#222">40</text>
<text transform="translate(224.4,254.5) scale(0.95,1)" text-anchor="end" font-family="Liberation Sans, sans-serif" font-size="7.89" fill="#222">20</text>
<text transform="translate(224.4,272.1) scale(0.95,1)" text-anchor="end" font-family="Liberation Sans, sans-serif" font-size="7.89" fill="#222">0</text>
<text transform="translate(224.4,289.8) scale(0.95,1)" text-anchor="end" font-family="Liberation Sans, sans-serif" font-size="7.89" fill="#222">−20</text>
<path d="M231,268.6 L330,268.6" stroke="#222" stroke-width="0.9" stroke-dasharray="1,1.5"/>
<path d="M230.6,266.2 L231.9,265.8 L233.2,265.8 L234.5,264.7 L235.8,264.9 L237.1,265.0 L238.4,263.8 L239.7,263.7 L241.0,263.2 L242.3,263.1 L243.6,261.7 L244.9,261.7 L246.2,260.5 L247.5,261.0 L248.8,260.1 L250.1,258.3 L251.4,259.5 L252.7,259.6 L254.0,258.2 L255.3,257.5 L256.6,256.3 L257.9,255.7 L259.2,255.1 L260.5,253.5 L261.8,253.2 L263.1,252.5 L264.4,251.3 L265.7,251.1 L267.0,250.1 L268.3,249.8 L269.6,248.3 L270.9,248.0 L272.2,247.3 L273.5,247.0 L274.8,246.1 L276.1,245.4 L277.4,246.0 L278.7,245.5 L280.0,244.7 L281.3,243.9 L282.6,242.6 L283.9,241.7 L285.2,241.0 L286.5,239.8 L287.8,240.0 L289.1,238.6 L290.4,238.7 L291.7,237.7 L293.0,238.2 L294.3,237.7 L295.6,236.0 L296.9,235.9 L298.2,236.7 L299.5,235.5 L300.8,236.0 L302.1,234.6 L303.4,233.7 L304.7,234.1 L306.0,233.9 L307.3,232.6 L308.6,231.8 L309.9,231.7 L311.2,232.2 L312.5,231.3 L313.8,229.6 L315.1,229.1 L316.4,228.3 L317.7,228.0 L319.0,228.9 L320.3,227.7 L321.6,227.9 L322.9,227.2 L324.2,226.3 L325.5,226.7 L326.8,225.7 L328.1,226.8 L328.9,226.8" stroke="#111" stroke-width="1.2" fill="none" stroke-linejoin="round"/>
<path d="M231.0,268.7 L231.9,268.7 L232.8,268.7 L233.7,268.7 L234.6,268.9 L235.5,269.8 L236.4,269.0 M239.1,267.5 L240.0,267.1 L240.9,265.7 L241.8,265.8 L242.7,265.4 L243.6,265.6 L244.5,265.5 M247.2,265.8 L248.1,266.9 L249.0,267.2 L249.9,267.0 L250.8,267.4 L251.7,266.4 L252.6,266.6 M255.3,264.0 L256.2,262.1 L257.1,262.2 L258.0,263.0 L258.9,263.0 L259.8,262.2 L260.7,262.7 M263.4,264.6 L264.3,264.5 L265.2,263.5 L266.1,263.9 L267.0,264.4 L267.9,264.3 L268.8,263.9 M271.5,261.3 L272.4,261.5 L273.3,262.8 L274.2,263.2 L275.1,264.6 L276.0,262.8 L276.9,261.3 M279.6,261.5 L280.5,261.8 L281.4,261.9 L282.3,261.2 L283.2,262.1 L284.1,261.2 L285.0,262.2 M287.7,262.7 L288.6,261.8 L289.5,261.5 L290.4,260.8 L291.3,261.2 L292.2,261.6 L293.1,262.7 M295.8,262.4 L296.7,262.1 L297.6,261.3 L298.5,261.3 L299.4,261.7 L300.3,262.2 L301.2,261.8 M303.9,261.4 L304.8,260.0 L305.7,261.1 L306.6,260.7 L307.5,261.4 L308.4,262.0 L309.3,262.6 M312.0,262.1 L312.9,261.4 L313.8,260.9 L314.7,261.0 L315.6,261.4 L316.5,261.9 L317.4,262.5 M320.1,260.8 L321.0,262.2 L321.9,262.1 L322.8,262.4 L323.7,261.6 L324.6,260.9 L325.5,261.0" stroke="#8a8a8a" stroke-width="1.1" fill="none" stroke-linejoin="round"/>
<text transform="translate(231.5,295) scale(0.95,1)" text-anchor="middle" font-family="Liberation Sans, sans-serif" font-size="7.89" fill="#222">0</text>
<text transform="translate(332,295) scale(0.95,1)" text-anchor="middle" font-family="Liberation Sans, sans-serif" font-size="7.89" fill="#222">1245</text>
<text transform="translate(284,302.6) scale(0.95,1)" text-anchor="middle" font-family="Liberation Sans, sans-serif" font-size="9.05" fill="#222">Time (min)</text>
<text transform="translate(368.4,249.5) rotate(-90)" text-anchor="middle" font-family="Liberation Sans, sans-serif" font-size="8.6" fill="#222">NADH Generation (a.u)</text>
<path d="M392.4,216.3 L392.4,286.6 L514.6,286.6 M389,286.6 L392.4,286.6 M389,268.8 L392.4,268.8 M389,251.1 L392.4,251.1 M389,233.3 L392.4,233.3 M389,215.5 L392.4,215.5" stroke="#111" stroke-width="1.1" fill="none"/>
<text transform="translate(386.1,289.8) scale(0.95,1)" text-anchor="end" font-family="Liberation Sans, sans-serif" font-size="7.89" fill="#222">0</text>
<text transform="translate(386.1,272.0) scale(0.95,1)" text-anchor="end" font-family="Liberation Sans, sans-serif" font-size="7.89" fill="#222">25</text>
<text transform="translate(386.1,254.2) scale(0.95,1)" text-anchor="end" font-family="Liberation Sans, sans-serif" font-size="7.89" fill="#222">50</text>
<text transform="translate(386.1,236.5) scale(0.95,1)" text-anchor="end" font-family="Liberation Sans, sans-serif" font-size="7.89" fill="#222">75</text>
<text transform="translate(386.1,218.7) scale(0.95,1)" text-anchor="end" font-family="Liberation Sans, sans-serif" font-size="7.89" fill="#222">100</text>
<path d="M394,216.3 L444.5,216.3 M463.5,216.3 L511,216.3 M421.4,216.3 L421.4,210.9 L488.5,210.9 L488.5,216.3" stroke="#111" stroke-width="1.1" fill="none"/>
<text transform="translate(410,197.7) scale(0.95,1)" font-family="Liberation Sans, sans-serif" font-size="8.74" fill="#222">GLN<tspan font-size="5" dy="-2.7">High</tspan></text>
<text transform="translate(473.8,197.7) scale(0.95,1)" font-family="Liberation Sans, sans-serif" font-size="8.74" fill="#222">GLN<tspan font-size="5" dy="-2.7">Low</tspan></text>
<text transform="translate(435,209.2) scale(0.95,1)" font-family="Liberation Sans, sans-serif" font-size="8.00" fill="#222"><tspan font-style="italic">P</tspan> = 0.0009</text>
<path d="M454.5,218.5 L454.5,286.6" stroke="#111" stroke-width="1" stroke-dasharray="3,1.2,1,1.2"/>
<path d="M400.1,227.6 L400.1,221.9 M397.6,221.9 L402.6,221.9" stroke="#111" stroke-width="1.1"/>
<rect x="394.8" y="227.6" width="10.6" height="59.0" fill="#f4f4f4"/>
<clipPath id="c39482275"><rect x="394.8" y="227.58700000000002" width="10.6" height="59.013000000000005"/></clipPath>
<path clip-path="url(#c39482275)" d="M335.79,286.60 L394.80,227.59 M339.79,286.60 L398.80,227.59 M343.79,286.60 L402.80,227.59 M347.79,286.60 L406.80,227.59 M351.79,286.60 L410.80,227.59 M355.79,286.60 L414.80,227.59 M359.79,286.60 L418.80,227.59 M363.79,286.60 L422.80,227.59 M367.79,286.60 L426.80,227.59 M371.79,286.60 L430.80,227.59 M375.79,286.60 L434.80,227.59 M379.79,286.60 L438.80,227.59 M383.79,286.60 L442.80,227.59 M387.79,286.60 L446.80,227.59 M391.79,286.60 L450.80,227.59 M395.79,286.60 L454.80,227.59 M399.79,286.60 L458.80,227.59 M403.79,286.60 L462.80,227.59 M407.79,286.60 L466.80,227.59 M411.79,286.60 L470.80,227.59 M415.79,286.60 L474.80,227.59 M419.79,286.60 L478.80,227.59 M423.79,286.60 L482.80,227.59 M427.79,286.60 L486.80,227.59 M431.79,286.60 L490.80,227.59 M435.79,286.60 L494.80,227.59 M439.79,286.60 L498.80,227.59 M443.79,286.60 L502.80,227.59 M447.79,286.60 L506.80,227.59 M451.79,286.60 L510.80,227.59 M455.79,286.60 L514.80,227.59 M459.79,286.60 L518.80,227.59 M463.79,286.60 L522.80,227.59" stroke="#777" stroke-width="1.2" fill="none"/>
<rect x="394.8" y="227.6" width="10.6" height="59.0" fill="none" stroke="#111" stroke-width="1.1"/>
<path d="M400.1,286.6 L400.1,289.5" stroke="#111" stroke-width="1"/>
<text transform="translate(400.1,299.6) scale(0.95,1)" text-anchor="middle" font-family="Liberation Sans, sans-serif" font-size="8.00" fill="#222">4</text>
<path d="M415.5,251.8 L415.5,251.4 M413.0,251.4 L418.0,251.4" stroke="#111" stroke-width="1.1"/>
<rect x="410.2" y="251.8" width="10.6" height="34.8" fill="#f6f6f6" stroke="#111" stroke-width="1.1"/>
<path d="M415.5,286.6 L415.5,289.5" stroke="#111" stroke-width="1"/>
<text transform="translate(415.5,299.6) scale(0.95,1)" text-anchor="middle" font-family="Liberation Sans, sans-serif" font-size="8.00" fill="#222">12</text>
<path d="M431.1,252.8 L431.1,252.1 M428.6,252.1 L433.6,252.1" stroke="#111" stroke-width="1.1"/>
<rect x="425.8" y="252.8" width="10.6" height="33.8" fill="#f4f4f4"/>
<clipPath id="c42582528"><rect x="425.8" y="252.82750000000001" width="10.6" height="33.77250000000001"/></clipPath>
<path clip-path="url(#c42582528)" d="M392.03,286.60 L425.80,252.83 M396.03,286.60 L429.80,252.83 M400.03,286.60 L433.80,252.83 M404.03,286.60 L437.80,252.83 M408.03,286.60 L441.80,252.83 M412.03,286.60 L445.80,252.83 M416.03,286.60 L449.80,252.83 M420.03,286.60 L453.80,252.83 M424.03,286.60 L457.80,252.83 M428.03,286.60 L461.80,252.83 M432.03,286.60 L465.80,252.83 M436.03,286.60 L469.80,252.83 M440.03,286.60 L473.80,252.83 M444.03,286.60 L477.80,252.83 M448.03,286.60 L481.80,252.83 M452.03,286.60 L485.80,252.83 M456.03,286.60 L489.80,252.83 M460.03,286.60 L493.80,252.83 M464.03,286.60 L497.80,252.83 M468.03,286.60 L501.80,252.83" stroke="#b0b0b0" stroke-width="1.2" fill="none"/>
<rect x="425.8" y="252.8" width="10.6" height="33.8" fill="none" stroke="#111" stroke-width="1.1"/>
<path d="M431.1,286.6 L431.1,289.5" stroke="#111" stroke-width="1"/>
<text transform="translate(431.1,299.6) scale(0.95,1)" text-anchor="middle" font-family="Liberation Sans, sans-serif" font-size="8.00" fill="#222">1</text>
<path d="M446.1,246.1 L446.1,244.7 M443.6,244.7 L448.6,244.7" stroke="#111" stroke-width="1.1"/>
<rect x="440.8" y="246.1" width="10.6" height="40.5" fill="#fff"/>
<clipPath id="c44082460"><rect x="440.8" y="246.07300000000004" width="10.6" height="40.52699999999999"/></clipPath>
<path clip-path="url(#c44082460)" d="M400.27,286.60 L440.80,246.07 M404.27,286.60 L444.80,246.07 M408.27,286.60 L448.80,246.07 M412.27,286.60 L452.80,246.07 M416.27,286.60 L456.80,246.07 M420.27,286.60 L460.80,246.07 M424.27,286.60 L464.80,246.07 M428.27,286.60 L468.80,246.07 M432.27,286.60 L472.80,246.07 M436.27,286.60 L476.80,246.07 M440.27,286.60 L480.80,246.07 M444.27,286.60 L484.80,246.07 M448.27,286.60 L488.80,246.07 M452.27,286.60 L492.80,246.07 M456.27,286.60 L496.80,246.07 M460.27,286.60 L500.80,246.07 M464.27,286.60 L504.80,246.07 M468.27,286.60 L508.80,246.07 M472.27,286.60 L512.80,246.07 M476.27,286.60 L516.80,246.07 M480.27,286.60 L520.80,246.07 M484.27,286.60 L524.80,246.07 M488.27,286.60 L528.80,246.07" stroke="#111" stroke-width="1.4" fill="none"/>
<rect x="440.8" y="246.1" width="10.6" height="40.5" fill="none" stroke="#111" stroke-width="1.1"/>
<path d="M446.1,286.6 L446.1,289.5" stroke="#111" stroke-width="1"/>
<text transform="translate(446.1,299.6) scale(0.95,1)" text-anchor="middle" font-family="Liberation Sans, sans-serif" font-size="8.00" fill="#222">11</text>
<path d="M461.5,282.0 L461.5,281.6 M459.0,281.6 L464.0,281.6" stroke="#111" stroke-width="1.1"/>
<rect x="456.2" y="282.0" width="10.6" height="4.6" fill="#111" stroke="#111" stroke-width="1.1"/>
<path d="M461.5,286.6 L461.5,289.5" stroke="#111" stroke-width="1"/>
<text transform="translate(461.5,299.6) scale(0.95,1)" text-anchor="middle" font-family="Liberation Sans, sans-serif" font-size="8.00" fill="#222">10</text>
<path d="M476.8,282.0 L476.8,281.4 M474.3,281.4 L479.3,281.4" stroke="#111" stroke-width="1.1"/>
<rect x="471.5" y="282.0" width="10.6" height="4.6" fill="#555" stroke="#111" stroke-width="1.1"/>
<path d="M476.8,286.6 L476.8,289.5" stroke="#111" stroke-width="1"/>
<text transform="translate(476.8,299.6) scale(0.95,1)" text-anchor="middle" font-family="Liberation Sans, sans-serif" font-size="8.00" fill="#222">3</text>
<path d="M492.5,282.0 L492.5,281.6 M490.0,281.6 L495.0,281.6" stroke="#111" stroke-width="1.1"/>
<rect x="487.2" y="282.0" width="10.6" height="4.6" fill="#888" stroke="#111" stroke-width="1.1"/>
<path d="M492.5,286.6 L492.5,289.5" stroke="#111" stroke-width="1"/>
<text transform="translate(492.5,299.6) scale(0.95,1)" text-anchor="middle" font-family="Liberation Sans, sans-serif" font-size="8.00" fill="#222">5</text>
<path d="M507.8,279.8 L507.8,279.5 M505.3,279.5 L510.3,279.5" stroke="#111" stroke-width="1.1"/>
<rect x="502.5" y="279.8" width="10.6" height="6.8" fill="#c8c8c8" stroke="#111" stroke-width="1.1"/>
<path d="M507.8,286.6 L507.8,289.5" stroke="#111" stroke-width="1"/>
<text transform="translate(507.8,299.6) scale(0.95,1)" text-anchor="middle" font-family="Liberation Sans, sans-serif" font-size="8.00" fill="#222">6</text>
<text transform="translate(454.6,310.3) scale(0.95,1)" text-anchor="middle" font-family="Liberation Sans, sans-serif" font-size="9.05" fill="#222">Primary GBM cells</text>
</svg>
</body></html>
